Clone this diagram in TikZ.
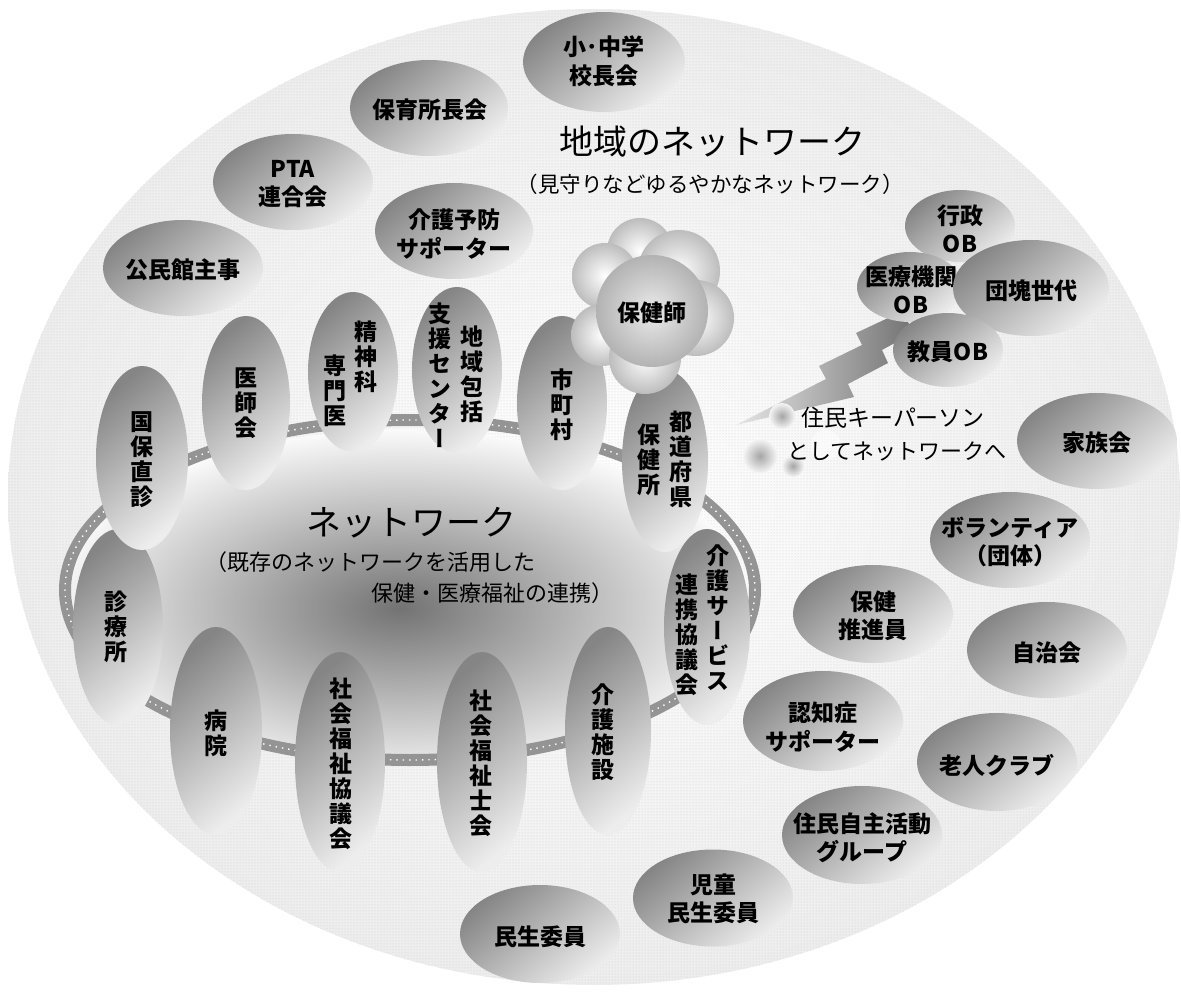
\documentclass[tikz,border=0pt]{standalone}
\usepackage{fontspec}
\usetikzlibrary{shapes.geometric,patterns}
\newfontfamily\jp{Noto Sans CJK JP}
\newfontfamily\jpv{Noto Sans CJK JP}[RawFeature=+vert]
\tikzset{
  blob/.style={ellipse, draw=none, inner sep=0pt, top color=black!48, bottom color=black!7, shading angle=40},
  bubble/.style={circle, draw=none, inner sep=0pt, inner color=white, outer color=black!26},
  lab/.style={font=\jp\bfseries\fontsize{23}{28.5}\selectfont, align=center, inner sep=0pt, text=black},
  vlab/.style={font=\jpv\bfseries\fontsize{23}{25}\selectfont, align=center, inner sep=0pt, text=black},
  title/.style={font=\jp\fontsize{34}{40}\selectfont, inner sep=0pt, text=black},
  sub/.style={font=\jp\fontsize{22}{26}\selectfont, inner sep=0pt, text=black},
  dot/.style={circle, draw=none, inner sep=0pt, inner color=black!35, outer color=black!4},
}
\begin{document}
\begin{tikzpicture}[x=1pt,y=-1pt]
\useasboundingbox (0,0) rectangle (1181,992);
% outer field
\shade[inner color=white, outer color=black!7] (594,497) ellipse [x radius=586pt, y radius=488pt];
\fill[pattern=dots, pattern color=black!20] (594,497) ellipse [x radius=586pt, y radius=488pt];
% inner network field
\begin{scope}
  \clip (410,590) ellipse [x radius=345pt, y radius=170pt];
  \shade[inner color=black!55, outer color=black!2] (400,608) ellipse [x radius=352pt, y radius=178pt];
\end{scope}
\draw[line width=12pt, black!42] (410,590) ellipse [x radius=345pt, y radius=170pt];
\draw[line width=1.4pt, white, dash pattern=on 1.4pt off 5pt] (410,590) ellipse [x radius=345pt, y radius=170pt];

% inner ring members
\node[blob, minimum width=90pt, minimum height=196pt] (shinryo) at (118,627) {};
\node[vlab] (shinryo-t) at (116,627) {診\\療\\所};
\node[blob, minimum width=92pt, minimum height=184pt] (kokuho) at (142,458) {};
\node[vlab] (kokuho-t) at (142,460) {国\\保\\直\\診};
\node[blob, minimum width=88pt, minimum height=174pt] (ishikai) at (246,403) {};
\node[vlab] (ishikai-t) at (246,403) {医\\師\\会};
\node[blob, minimum width=90pt, minimum height=160pt] (seishin) at (353,372) {};
\node[vlab] (seishin-a) at (366,357) {精\\神\\科};
\node[vlab] (seishin-b) at (335,391) {専\\門\\医};
\node[blob, minimum width=90pt, minimum height=166pt] (chiiki) at (457,370) {};
\node[vlab] (chiiki-a) at (472,374) {地\\域\\包\\括};
\node[vlab] (chiiki-b) at (440,375) {支\\援\\セ\\ン\\タ\\ー};
\node[blob, minimum width=90pt, minimum height=174pt] (shicho) at (562,403) {};
\node[vlab] (shicho-t) at (562,405) {市\\町\\村};
\node[blob, minimum width=86pt, minimum height=182pt] (todofu) at (665,461) {};
\node[vlab] (todofu-a) at (681,459) {都\\道\\府\\県};
\node[vlab] (todofu-b) at (649,460) {保\\健\\所};
\node[blob, minimum width=86pt, minimum height=196pt] (kserv) at (707,627) {};
\node[vlab] (kserv-a) at (718,618) {介\\護\\サ\\ー\\ビ\\ス};
\node[vlab] (kserv-b) at (687,635) {連\\携\\協\\議\\会};
\node[blob, minimum width=86pt, minimum height=208pt] (kshisetsu) at (608,731) {};
\node[vlab] (kshisetsu-t) at (603,732) {介\\護\\施\\設};
\node[blob, minimum width=90pt, minimum height=220pt] (shakaishi) at (482,762) {};
\node[vlab] (shakaishi-t) at (481,763) {社\\会\\福\\祉\\士\\会};
\node[blob, minimum width=90pt, minimum height=220pt] (shakyo) at (340,762) {};
\node[vlab] (shakyo-t) at (341,764) {社\\会\\福\\祉\\協\\議\\会};
\node[blob, minimum width=92pt, minimum height=208pt] (byoin) at (216,731) {};
\node[vlab] (byoin-t) at (216,733) {病\\院};

% public health nurse cloud
\node[bubble, minimum size=66pt] (c1) at (640,251) {};
\node[bubble, minimum size=66pt] (c2) at (605,276) {};
\node[bubble, minimum size=82pt] (c3) at (679,271) {};
\node[bubble, minimum size=76pt] (c4) at (696,318) {};
\node[bubble, minimum size=62pt] (c5) at (602,335) {};
\node[bubble, minimum size=72pt] (c6) at (645,358) {};
\node[bubble, minimum size=112pt, inner color=black!8, outer color=black!30] (hokenshi) at (652,311) {};
\node[lab] (hokenshi-t) at (652,313) {保健師};

% titles
\node[title] (t-local) at (712,142) {地域のネットワーク};
\node[sub, font=\jp\fontsize{21.5}{26}\selectfont] (t-local-sub) at (710,184) {（見守りなどゆるやかなネットワーク）};
\node[title, font=\jp\fontsize{35}{40}\selectfont] (t-net) at (411,523) {ネットワーク};
\node[sub, anchor=west] (t-net-sub1) at (205,562) {（既存のネットワークを活用した};
\node[sub, anchor=east] (t-net-sub2) at (614,593) {保健・医療福祉の連携）};

% outer ring members
\node[blob, minimum width=162pt, minimum height=100pt] (shochu) at (604,62) {};
\node[lab] (shochu-t) at (604,61) {小･中学\\校長会};
\node[blob, minimum width=158pt, minimum height=96pt] (hoiku) at (429,108) {};
\node[lab] (hoiku-t) at (430,110) {保育所長会};
\node[blob, minimum width=160pt, minimum height=96pt] (pta) at (293,182) {};
\node[lab] (pta-t) at (293,184) {PTA\\連合会};
\node[blob, minimum width=158pt, minimum height=96pt] (kyobo) at (454,231) {};
\node[lab] (kyobo-t) at (454,234) {介護予防\\サポーター};
\node[blob, minimum width=160pt, minimum height=96pt] (kominkan) at (183,268) {};
\node[lab] (kominkan-t) at (183,270) {公民館主事};

% lightning bolt
\shade[left color=black!10, right color=black!55]
  (736,425) -- (826,379) -- (819,366) -- (862,345) -- (856,333) -- (903,311)
  -- (913,333) -- (882,350) -- (888,363) -- (848,384) -- (854,397) -- cycle;

\node[blob, minimum width=110pt, minimum height=72pt] (gyosei) at (960,226) {};
\node[lab] (gyosei-t) at (960,229) {行政\\OB};
\node[blob, minimum width=106pt, minimum height=70pt] (iryo) at (910,287) {};
\node[lab] (iryo-t) at (911,290) {医療機関\\OB};
\node[blob, minimum width=156pt, minimum height=96pt] (dankai) at (1031,288) {};
\node[lab] (dankai-t) at (1031,291) {団塊世代};
\node[blob, minimum width=110pt, minimum height=74pt] (kyoin) at (948,350) {};
\node[lab] (kyoin-t) at (948,352) {教員OB};

% key persons
\node[dot, minimum size=26pt] (d1) at (782,416) {};
\node[dot, minimum size=34pt] (d2) at (760,456) {};
\node[dot, minimum size=22pt] (d3) at (793,466) {};
\node[circle, fill=white, opacity=0.5, minimum size=30pt, inner sep=0pt] (d4) at (826,445) {};
\node[sub, font=\jp\fontsize{23}{26}\selectfont, anchor=west] (key1) at (801,418) {住民キーパーソン};
\node[sub, font=\jp\fontsize{22}{26}\selectfont, anchor=west] (key2) at (787,451) {としてネットワークへ};

\node[blob, minimum width=160pt, minimum height=96pt] (kazoku) at (1097,441) {};
\node[lab] (kazoku-t) at (1097,443) {家族会};
\node[blob, minimum width=160pt, minimum height=96pt] (vol) at (1010,540) {};
\node[lab] (vol-t) at (1010,542) {ボランティア\\（団体）};
\node[blob, minimum width=160pt, minimum height=98pt] (suishin) at (873,614) {};
\node[lab] (suishin-t) at (873,616) {保健\\推進員};
\node[blob, minimum width=160pt, minimum height=96pt] (jichi) at (1047,650) {};
\node[lab] (jichi-t) at (1047,653) {自治会};
\node[blob, minimum width=160pt, minimum height=100pt] (ninchi) at (823,721) {};
\node[lab] (ninchi-t) at (823,727) {認知症\\サポーター};
\node[blob, minimum width=160pt, minimum height=98pt] (rojin) at (997,762) {};
\node[lab] (rojin-t) at (997,765) {老人クラブ};
\node[blob, minimum width=160pt, minimum height=98pt] (jishu) at (862,835) {};
\node[lab] (jishu-t) at (862,838) {住民自主活動\\グループ};
\node[blob, minimum width=160pt, minimum height=97pt] (jido) at (713,898) {};
\node[lab] (jido-t) at (713,899) {児童\\民生委員};
\node[blob, minimum width=160pt, minimum height=98pt] (minsei) at (540,934) {};
\node[lab] (minsei-t) at (540,937) {民生委員};
\end{tikzpicture}
\end{document}
